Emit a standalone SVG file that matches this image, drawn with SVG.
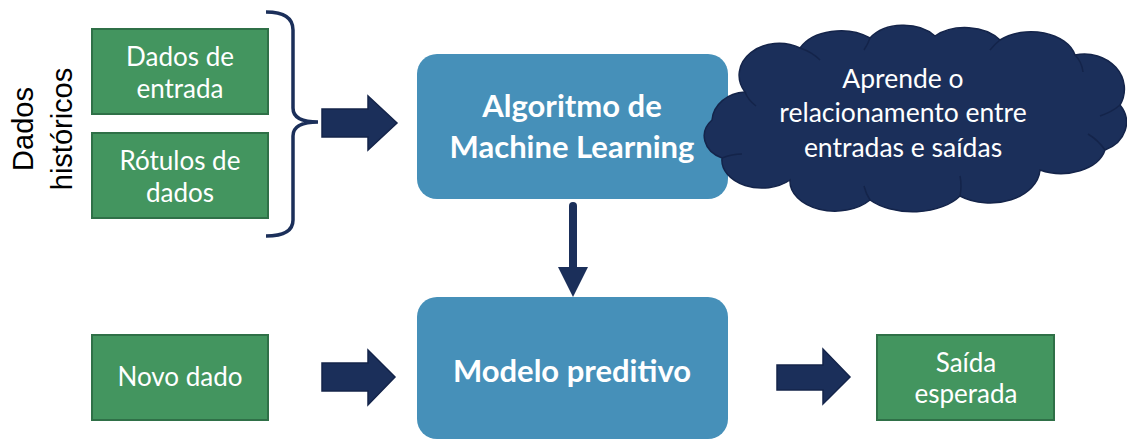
<svg xmlns="http://www.w3.org/2000/svg" width="1127" height="439" viewBox="0 0 1127 439">
<style>
.g{fill:#43955f;stroke:#2f7047;stroke-width:2}
.b{fill:#4690b9}
.t{font-family:Lato,"Open Sans",sans-serif;fill:#fff;text-anchor:middle}
.gt{font-size:26px}
.bt{font-size:31px;font-weight:bold}
.ct{font-size:26.5px}
.nav{fill:#1b2f5a;stroke:#14244a;stroke-width:1.5}
.in{fill:none;stroke:#14244a;stroke-width:1.5}
</style>
<rect width="1127" height="439" fill="#fff"/>
<text transform="translate(33,129) rotate(-90)" font-family="'Liberation Sans',Arial,sans-serif" font-size="29" text-anchor="middle" fill="#000">Dados</text>
<text transform="translate(72,129) rotate(-90)" font-family="'Liberation Sans',Arial,sans-serif" font-size="29" text-anchor="middle" fill="#000">históricos</text>
<g id="entrada"><rect class="g" x="92" y="29" width="176" height="85"/><text class="t gt" x="180" y="66">Dados de</text><text class="t gt" x="180" y="98">entrada</text></g>
<g id="rotulos"><rect class="g" x="92" y="133" width="176" height="85"/><text class="t gt" x="180" y="170">Rótulos de</text><text class="t gt" x="180" y="202">dados</text></g>
<g id="novo"><rect class="g" x="92" y="335" width="176" height="85"/><text class="t gt" x="180" y="386">Novo dado</text></g>
<g id="saida"><rect class="g" x="877" y="335" width="177" height="85"/><text class="t gt" x="966" y="372">Saída</text><text class="t gt" x="966" y="403">esperada</text></g>
<g id="algoritmo"><rect class="b" x="417" y="54" width="311" height="145" rx="20"/><text class="t bt" x="572" y="117">Algoritmo de</text><text class="t bt" x="572" y="158">Machine Learning</text></g>
<g id="modelo"><rect class="b" x="417" y="297" width="311" height="142" rx="20"/><text class="t bt" x="572" y="382">Modelo preditivo</text></g>
<g id="nuvem">
<path class="nav" d="M745,92 A40,32 0 0 1 800,48 A45,30 0 0 1 870,38 A40,28 0 0 1 935,36 A42,28 0 0 1 1000,40 A45,30 0 0 1 1075,55 A40,35 0 0 1 1120,105 A35,30 0 0 1 1105,150 A45,30 0 0 1 1040,170 A50,35 0 0 1 960,196 A55,32 0 0 1 870,200 A45,30 0 0 1 790,180 A40,28 0 0 1 722,158 A30,24 0 0 1 712,120 A35,30 0 0 1 745,92 Z"/>
<path class="in" d="M745,92 Q748,100 756,106 M800,48 Q812,52 820,60 M870,38 Q868,44 864,50 M1000,40 Q995,44 990,50 M1075,55 Q1082,62 1083,72 M1120,105 Q1112,112 1100,116 M1105,150 Q1098,140 1088,134 M960,196 Q962,186 960,176 M870,200 Q866,194 864,186 M722,158 Q732,154 742,154"/>
<text class="t ct" x="903" y="88">Aprende o</text>
<text class="t ct" x="903" y="122">relacionamento entre</text>
<text class="t ct" x="903" y="157">entradas e saídas</text>
</g>
<g id="conectores">
<path d="M266,12 Q293,12 293,30 L293,108 Q293,122 318,122 Q293,122 293,136 L293,220 Q293,236 266,236" fill="none" stroke="#1b2f5a" stroke-width="3.5"/>
<polygon class="nav" points="322,109 368,109 368,96 397,123 368,150 368,137 322,137"/>
<polygon class="nav" points="322,363 368,363 368,350 395,377 368,405 368,391 322,391"/>
<polygon class="nav" points="777,365 823,365 823,349 850,377 823,404 823,390 777,390"/>
<line x1="573" y1="206" x2="573" y2="268" stroke="#1b2f5a" stroke-width="8" stroke-linecap="round"/>
<polygon fill="#1b2f5a" points="558,267 588,267 573,297"/>
</g>
</svg>
